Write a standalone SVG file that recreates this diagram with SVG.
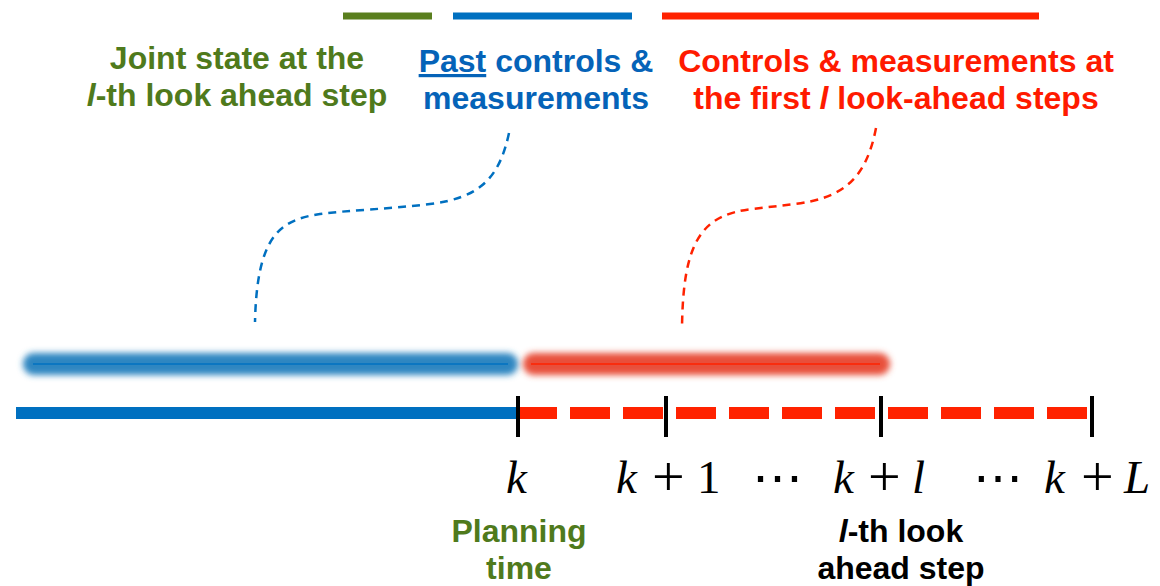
<svg xmlns="http://www.w3.org/2000/svg" width="1160" height="586" viewBox="0 0 1160 586">
<defs>
<filter id="blur" filterUnits="userSpaceOnUse" x="0" y="330" width="1160" height="70"><feGaussianBlur stdDeviation="3"/></filter>
<style>
.lbl{font-family:"Liberation Sans",Arial,sans-serif;font-weight:bold;font-size:32px;text-anchor:middle}
.g{fill:#4F7A1C}.b{fill:#0563B8}.r{fill:#FF1A00}.k{fill:#000}
.m{font-family:"Liberation Serif","DejaVu Serif",serif;font-size:47px;fill:#000}
.p{font-family:"Liberation Serif","DejaVu Serif",serif;font-size:58px;fill:#000}
.it{font-style:italic}
.curve{fill:none;stroke-width:2.5;stroke-dasharray:8 6}
.tick{stroke:#000;stroke-width:4}
</style>
</defs>
<rect width="1160" height="586" fill="#fff"/>
<g id="legend-bars">
<line x1="343" y1="16" x2="432" y2="16" stroke="#5A7F1E" stroke-width="7"/>
<line x1="453" y1="16" x2="632" y2="16" stroke="#0070C0" stroke-width="7"/>
<line x1="662" y1="16" x2="1039" y2="16" stroke="#FF2200" stroke-width="7"/>
</g>
<g id="label-joint">
<text class="lbl g" x="237" y="69">Joint state at the</text>
<text class="lbl g" x="237" y="106"><tspan font-style="italic">l</tspan>-th look ahead step</text>
</g>
<g id="label-past">
<text class="lbl b" x="536" y="72"><tspan text-decoration="underline">Past</tspan> controls &amp;</text>
<text class="lbl b" x="536" y="109">measurements</text>
</g>
<g id="label-future">
<text class="lbl r" x="896" y="72">Controls &amp; measurements at</text>
<text class="lbl r" x="896" y="109">the first <tspan font-style="italic">l</tspan> look-ahead steps</text>
</g>
<g id="connectors">
<path class="curve" stroke="#0070C0" d="M509,133 C499,180 478,198 430,204 C390,209 350,210 320,214 C280,220 257,235 255,322"/>
<path class="curve" stroke="#FF2200" d="M876,128 C866,180 842,198 795,204 L752,209 C702,215 683,240 682,328"/>
</g>
<g id="glow-bars">
<line x1="34" y1="364" x2="507" y2="364" stroke="#2E86C1" stroke-width="22" stroke-linecap="round" filter="url(#blur)"/>
<line x1="33" y1="364" x2="508" y2="364" stroke="#0070C0" stroke-width="1.5"/>
<line x1="534" y1="364" x2="879" y2="364" stroke="#E8503A" stroke-width="22" stroke-linecap="round" filter="url(#blur)"/>
<line x1="531" y1="364" x2="880" y2="364" stroke="#FF2200" stroke-width="1.5"/>
</g>
<g id="axis">
<line x1="16" y1="413" x2="517" y2="413" stroke="#0070C0" stroke-width="12"/>
<line x1="517" y1="413" x2="1092" y2="413" stroke="#FF2200" stroke-width="12" stroke-dasharray="40 13"/>
<line class="tick" x1="518" y1="396" x2="518" y2="437"/>
<line class="tick" x1="666" y1="396" x2="666" y2="437"/>
<line class="tick" x1="881" y1="396" x2="881" y2="437"/>
<line class="tick" x1="1092" y1="396" x2="1092" y2="437"/>
</g>
<g id="ticklabels">
<text class="m it" x="506" y="493">k</text>
<text class="m it" x="616" y="493">k</text>
<text class="p" x="652" y="496">+</text>
<text class="m" x="697" y="493">1</text>
<text class="m" x="752" y="493" textLength="51" lengthAdjust="spacingAndGlyphs">⋯</text>
<text class="m it" x="833" y="493">k</text>
<text class="p" x="868" y="496">+</text>
<text class="m it" x="912" y="493">l</text>
<text class="m" x="973" y="493" textLength="50" lengthAdjust="spacingAndGlyphs">⋯</text>
<text class="m it" x="1044" y="493">k</text>
<text class="p" x="1081" y="496">+</text>
<text class="m it" x="1124" y="493">L</text>
</g>
<g id="label-planning">
<text class="lbl g" x="519" y="542">Planning</text>
<text class="lbl g" x="519" y="579">time</text>
</g>
<g id="label-lth">
<text class="lbl k" x="901" y="542"><tspan font-style="italic">l</tspan>-th look</text>
<text class="lbl k" x="901" y="579">ahead step</text>
</g>
</svg>
